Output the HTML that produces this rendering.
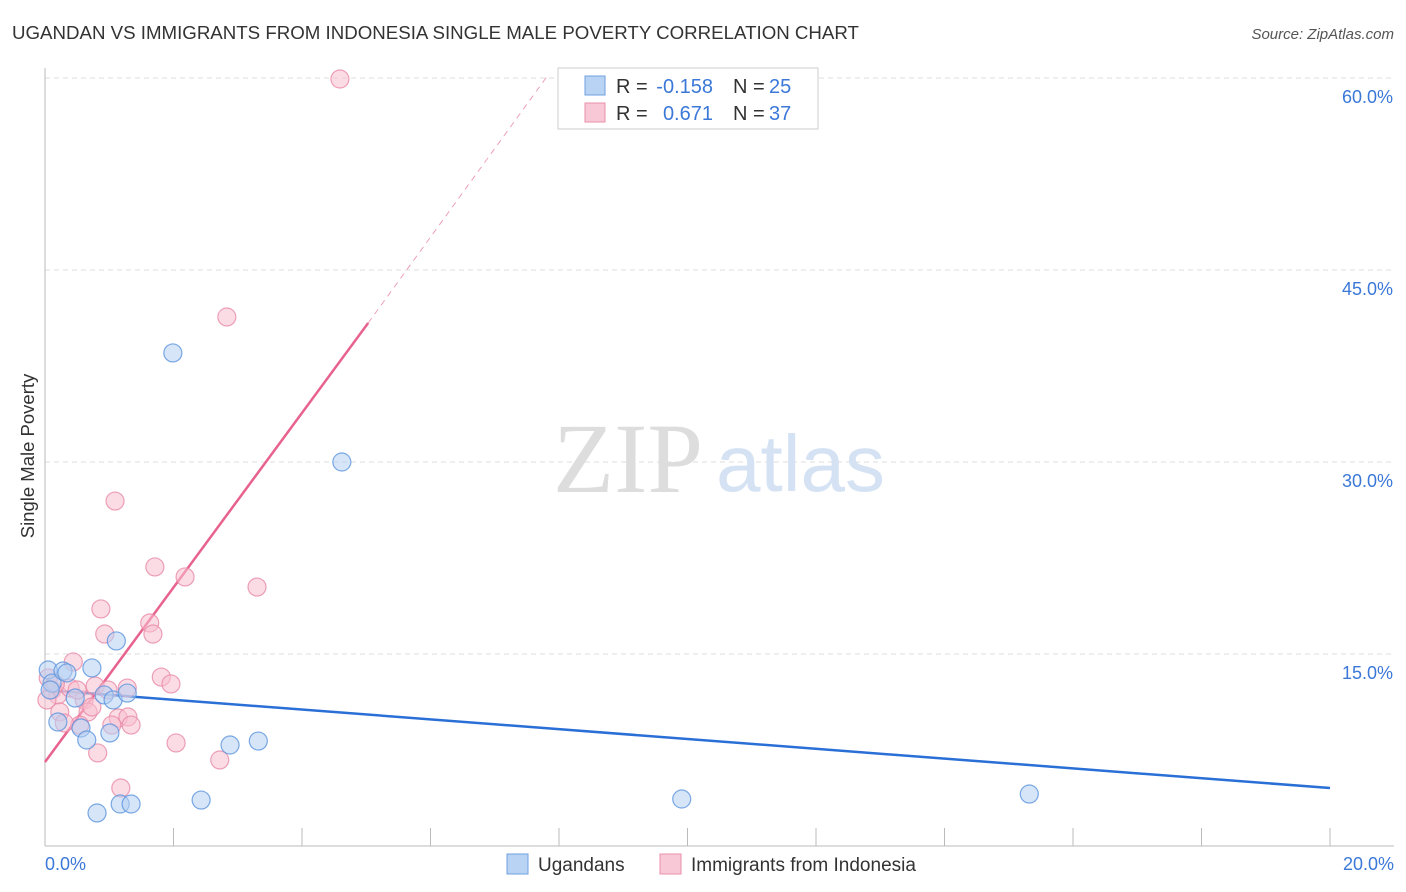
<!DOCTYPE html>
<html><head><meta charset="utf-8"><style>
body{margin:0;background:#fff;font-family:"Liberation Sans",sans-serif;}
svg{display:block}
</style></head><body>
<svg width="1406" height="892" id="chart" xmlns="http://www.w3.org/2000/svg">
<text x="12" y="39" font-size="18.7" fill="#333">UGANDAN VS IMMIGRANTS FROM INDONESIA SINGLE MALE POVERTY CORRELATION CHART</text>
<text x="1394" y="39" font-size="15" fill="#555" text-anchor="end" font-style="italic">Source: ZipAtlas.com</text>
<text x="0" y="0" transform="translate(34,456) rotate(-90)" font-size="18.5" fill="#333" text-anchor="middle">Single Male Poverty</text>
<g id="grid"></g>
<g id="ticks"></g>
<text x="553" y="492" font-size="100" fill="#ddd" font-family="Liberation Serif,serif">ZIP</text>
<text x="716" y="491" font-size="80" fill="#d4e2f4">atlas</text>
<g id="lines"></g>
<g id="pts"></g>
<g>
<rect x="558" y="68" width="260" height="61" fill="#fff" stroke="#ccc"/>
<rect x="585" y="76" width="20" height="19" fill="#b9d3f5" stroke="#6fa0e0"/>
<text x="616" y="93" font-size="20" fill="#333">R =</text>
<text x="713" y="93" font-size="20" fill="#3b78d8" text-anchor="end">-0.158</text>
<text x="733" y="93" font-size="20" fill="#333">N =</text>
<text x="769" y="93" font-size="20" fill="#3b78d8">25</text>
<rect x="585" y="103" width="20" height="19" fill="#f9c8d6" stroke="#ea8fab"/>
<text x="616" y="120" font-size="20" fill="#333">R =</text>
<text x="713" y="120" font-size="20" fill="#3b78d8" text-anchor="end">0.671</text>
<text x="733" y="120" font-size="20" fill="#333">N =</text>
<text x="769" y="120" font-size="20" fill="#3b78d8">37</text>
</g>
<g>
<rect x="507" y="854" width="21" height="20" fill="#b9d3f5" stroke="#6fa0e0"/>
<text x="538" y="871" font-size="19" fill="#333">Ugandans</text>
<rect x="660" y="854" width="21" height="20" fill="#f9c8d6" stroke="#ea8fab"/>
<text x="691" y="871" font-size="19" fill="#333">Immigrants from Indonesia</text>
</g>
</svg>
<script>
const blueX=[0.05,0.11,0.28,0.34,0.73,0.20,0.56,0.65,1.01,0.92,1.11,1.06,1.28,1.99,4.62,2.43,2.88,3.32,0.81,1.17,1.34,9.91,15.32,0.08,0.47];
const blueY=[13.75,12.73,13.67,13.52,13.91,9.69,9.22,8.28,8.83,11.80,16.02,11.41,11.95,38.52,30.0,3.59,7.89,8.20,2.58,3.28,3.28,3.67,4.06,12.19,11.56];
const pinkX=[4.59,2.83,1.09,1.71,2.18,3.30,0.87,1.63,1.68,0.93,0.44,1.81,1.96,1.28,0.78,0.05,0.11,0.20,0.03,0.23,0.39,0.61,0.67,0.73,0.54,0.30,1.14,1.29,1.34,1.04,2.04,0.82,2.72,1.18,0.16,0.50,0.98];
const pinkY=[59.92,41.33,26.95,21.80,21.02,20.23,18.52,17.42,16.56,16.56,14.38,13.20,12.66,12.34,12.5,13.13,12.19,11.80,11.41,10.47,12.34,11.41,10.47,10.86,9.45,9.61,10.0,10.08,9.45,9.45,8.05,7.27,6.72,4.53,12.66,12.19,12.19];
const yTicks=[15,30,45,60];
const xTickVals=[0,2,4,6,8,10,12,14,16,18,20];
const blueTrend=[12.19,4.53];
const pinkTrend=[6.56,40.86,60.23];
const pinkTrendX=[0,5.03,7.83];
const X=v=>45+v/20*1285, Y=v=>846-v/15*192;
const NS="http://www.w3.org/2000/svg";
function mk(p,t,a){const e=document.createElementNS(NS,t);for(const k in a)e.setAttribute(k,a[k]);p.appendChild(e);return e;}
const g=document.getElementById('grid'),tk=document.getElementById('ticks'),ln=document.getElementById('lines'),pts=document.getElementById('pts'),svg=document.getElementById('chart');
yTicks.forEach(v=>{
 const l=mk(g,'line',{x1:45,x2:1394,y1:Y(v),y2:Y(v),stroke:'#ddd','stroke-dasharray':'5,4'});
 
 
 const t=mk(svg,'text',{x:1393,y:Y(v)+25,'font-size':18,fill:'#3b78d8','text-anchor':'end'});t.textContent=v.toFixed(1)+'%';
 
 
});
mk(tk,'line',{x1:45,x2:45,y1:68,y2:846,stroke:'#bbb'});
mk(tk,'line',{x1:45,x2:1394,y1:846,y2:846,stroke:'#bbb'});
xTickVals.forEach(v=>{const l=mk(tk,'line',{x1:X(v),x2:X(v),y1:828,y2:846,stroke:'#bbb'});
 
 });
[[0,'0.0%',45,'start'],[20,'20.0%',1394,'end']].forEach(a=>{const t=mk(svg,'text',{x:a[2],y:870,'font-size':18,fill:'#3b78d8','text-anchor':a[3]});t.textContent=a[1];
 
 });
function dot(x,y,c,s,n){const e=mk(pts,'circle',{cx:X(x),cy:Y(y),r:9,fill:c,'fill-opacity':0.55,stroke:s,'stroke-opacity':0.8,'stroke-width':1.2});
 
 }
pinkX.forEach((x,i)=>dot(x,pinkY[i],'#f7bfd0','#e98aa8','indonesia-point'));
blueX.forEach((x,i)=>dot(x,blueY[i],'#b5cff2','#5b93dd','ugandan-point'));
const bl=mk(ln,'line',{x1:X(0),y1:Y(blueTrend[0]),x2:X(20),y2:Y(blueTrend[1]),stroke:'#2a6fd6','stroke-width':2.5});


const pl=mk(ln,'line',{x1:X(pinkTrendX[0]),y1:Y(pinkTrend[0]),x2:X(pinkTrendX[1]),y2:Y(pinkTrend[1]),stroke:'#e8628e','stroke-width':2.5});


const pd=mk(ln,'line',{x1:X(pinkTrendX[1]),y1:Y(pinkTrend[1]),x2:X(pinkTrendX[2]),y2:Y(pinkTrend[2]),stroke:'#eea0b8','stroke-width':1,'stroke-dasharray':'6,5'});


</script>
</body></html>
